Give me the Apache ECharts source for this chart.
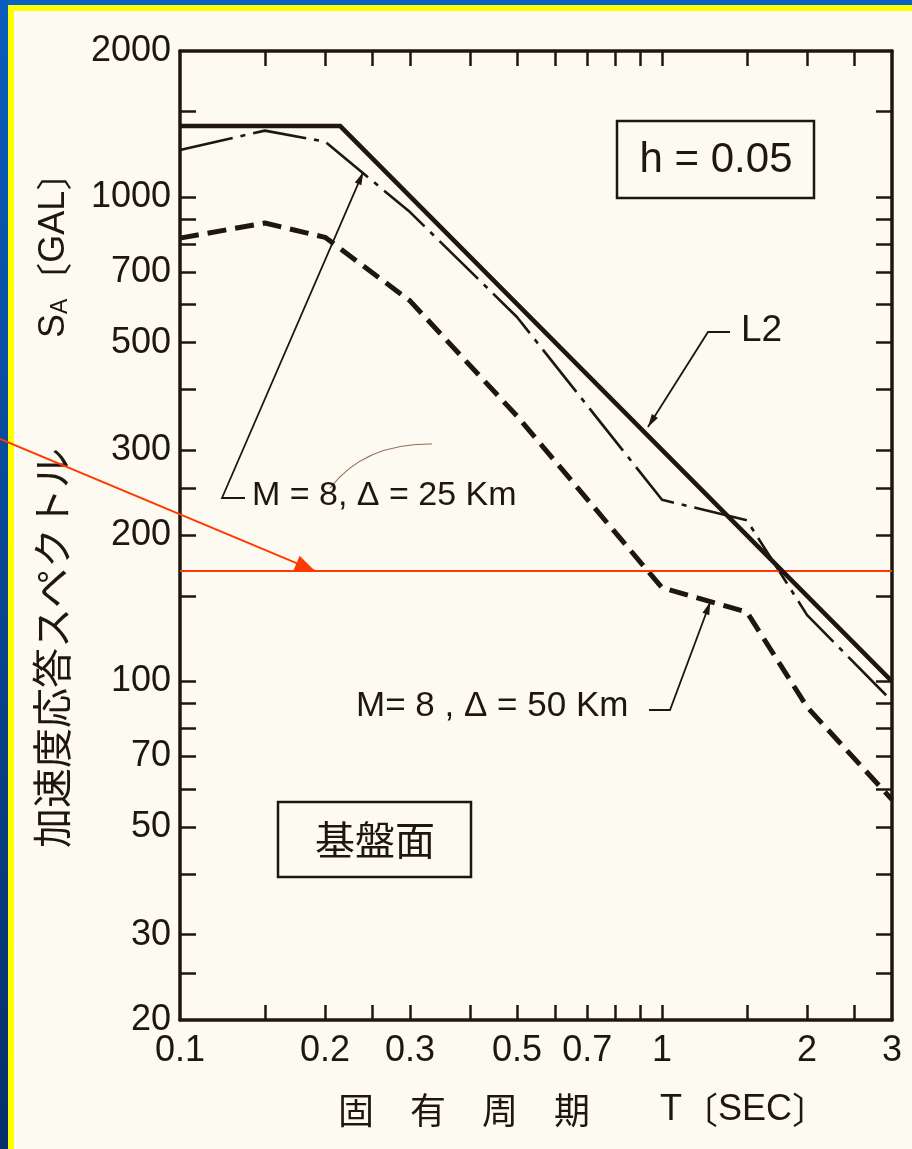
<!DOCTYPE html>
<html>
<head>
<meta charset="utf-8">
<script src="https://cdn.jsdelivr.net/npm/echarts@6/dist/echarts.min.js"></script>
<style>
  html, body { margin: 0; padding: 0; background: #fdfbf1; }
  #chart { width: 912px; height: 1149px; }
</style>
</head>
<body>
<div id="chart"></div>
<script>
// ---- data ----
const periods = [0.1, 0.15, 0.2, 0.3, 0.5, 1.0, 1.5, 2.0, 3.0];          // T [sec]
const saM8D25 = [1250, 1370, 1300, 930, 565, 237, 215, 137, 91];       // M=8, Δ=25 Km (dash-dot)
const saM8D50 = [822, 883, 825, 610, 353, 156, 139, 88.5, 57];         // M=8, Δ=50 Km (dashed)
const l2Periods = [0.1, 0.215, 3.0];                                    // L2 (solid)
const l2Sa = [1400, 1400, 100];
const redLevel = 169;                                                   // red horizontal line
const xLabelValues = [0.1, 0.2, 0.3, 0.5, 0.7, 1, 2, 3];
const xTickValues = [0.15, 0.2, 0.25, 0.3, 0.4, 0.5, 0.6, 0.7, 0.8, 0.9, 1, 1.5, 2, 2.5];
const yLabelValues = [20, 30, 50, 70, 100, 200, 300, 500, 700, 1000, 2000];
const yTickValues = [25, 30, 40, 50, 60, 70, 80, 90, 100, 150, 200, 250, 300, 400, 500, 600, 700, 800, 900, 1000, 1500];
// pointer tips (data coordinates)
const tipL2 = [0.935, 335];
const tipD25 = [0.24, 1126];
const tipD50 = [1.26, 146];

const INK = '#1f1612';
const LATIN = "'Liberation Sans', Arial, sans-serif";
const CJK = "'Noto Sans CJK JP', 'Noto Sans CJK SC', sans-serif";

const zip = (xs, ys) => xs.map((x, i) => [x, ys[i]]);

const chart = echarts.init(document.getElementById('chart'), null, { renderer: 'canvas' });

function xAxisCfg(pos, showLabels) {
  return {
    type: 'log', logBase: 10, min: 0.1, max: 3, position: pos,
    axisLine: { show: true, lineStyle: { color: INK, width: 3.5 } },
    axisTick: { show: true, inside: true, length: 15, customValues: xTickValues, lineStyle: { color: INK, width: 2.5 } },
    axisLabel: {
      show: showLabels, customValues: xLabelValues, margin: 13,
      fontFamily: LATIN, fontSize: 36, color: INK,
      formatter: v => String(v)
    },
    splitLine: { show: false }, minorTick: { show: false }, minorSplitLine: { show: false }
  };
}
function yAxisCfg(pos, showLabels) {
  return {
    type: 'log', logBase: 10, min: 20, max: 2000, position: pos,
    axisLine: { show: true, lineStyle: { color: INK, width: 3.5 } },
    axisTick: { show: true, inside: true, length: 16, customValues: yTickValues, lineStyle: { color: INK, width: 2.5 } },
    axisLabel: {
      show: showLabels, customValues: yLabelValues, margin: 9,
      fontFamily: LATIN, fontSize: 36, color: INK,
      formatter: v => String(v)
    },
    splitLine: { show: false }, minorTick: { show: false }, minorSplitLine: { show: false }
  };
}

chart.setOption({
  backgroundColor: '#fdfbf1',
  animation: false,
  grid: { left: 180, top: 51, right: 20, bottom: 129, containLabel: false },
  xAxis: [xAxisCfg('bottom', true), xAxisCfg('top', false)],
  yAxis: [yAxisCfg('left', true), yAxisCfg('right', false)],
  series: [
    {
      name: 'L2', type: 'line', data: zip(l2Periods, l2Sa), symbol: 'none', z: 5,
      lineStyle: { color: INK, width: 4.5, type: 'solid', cap: 'butt', join: 'miter' },
      markLine: {
        silent: true, symbol: 'none', label: { show: false },
        lineStyle: { color: '#ff3a00', width: 2, type: 'solid' },
        data: [{ yAxis: redLevel }]
      }
    },
    {
      name: 'M=8, Δ=25 Km', type: 'line', data: zip(periods, saM8D25), symbol: 'none', z: 4,
      lineStyle: { color: INK, width: 2.6, type: [54, 8, 5, 8], cap: 'butt' }
    },
    {
      name: 'M=8, Δ=50 Km', type: 'line', data: zip(periods, saM8D50), symbol: 'none', z: 4,
      lineStyle: { color: INK, width: 5, type: [19, 9], cap: 'butt' }
    }
  ]
});

function head(tip, from, len, half, color) {
  const dx = tip[0] - from[0], dy = tip[1] - from[1];
  const d = Math.hypot(dx, dy) || 1;
  const ux = dx / d, uy = dy / d;
  const bx = tip[0] - ux * len, by = tip[1] - uy * len;
  return {
    type: 'polygon', silent: true, z: 20,
    shape: { points: [tip, [bx - uy * half, by + ux * half], [bx + uy * half, by - ux * half]] },
    style: { fill: color }
  };
}
function pointer(points, color, width) {
  const tip = points[points.length - 1];
  const prev = points[points.length - 2];
  return [
    { type: 'polyline', silent: true, z: 20, shape: { points: points }, style: { stroke: color, lineWidth: width, fill: null } },
    head(tip, prev, 13, 3.6, color)
  ];
}

const px = p => chart.convertToPixel({ gridIndex: 0 }, p);
const pL2 = px(tipL2), pD25 = px(tipD25), pD50 = px(tipD50);
const pRed = px([0.1, redLevel]);
const redTip = [315, pRed[1]];

const graphics = [
  // frame
  { type: 'rect', silent: true, z: -5, shape: { x: 0, y: 0, width: 912, height: 5 }, style: { fill: '#0862c4' } },
  { type: 'rect', silent: true, z: -5, shape: { x: 0, y: 0, width: 8, height: 1149 },
    style: { fill: new echarts.graphic.LinearGradient(0, 0, 0, 1, [{ offset: 0, color: '#0a5dbd' }, { offset: 1, color: '#062f6a' }]) } },
  { type: 'rect', silent: true, z: -4, shape: { x: 8, y: 5, width: 904, height: 6 }, style: { fill: '#ffff00' } },
  { type: 'rect', silent: true, z: -4, shape: { x: 8, y: 5, width: 6, height: 1144 }, style: { fill: '#ffff00' } },

  // h = 0.05 box
  { type: 'rect', silent: true, z: 20, shape: { x: 617, y: 121, width: 197, height: 77 }, style: { fill: null, stroke: INK, lineWidth: 2.5 } },
  { type: 'text', silent: true, z: 21, x: 716, y: 160, style: { text: 'h = 0.05', font: '42px ' + LATIN, fill: INK, align: 'center', verticalAlign: 'middle' } },

  // 基盤面 box
  { type: 'rect', silent: true, z: 20, shape: { x: 278, y: 802, width: 193, height: 75 }, style: { fill: null, stroke: INK, lineWidth: 2.5 } },
  { type: 'text', silent: true, z: 21, x: 375, y: 840, style: { text: '基盤面', font: '40px ' + CJK, fill: INK, align: 'center', verticalAlign: 'middle' } },

  // curve labels
  { type: 'text', silent: true, z: 21, x: 741, y: 331, style: { text: 'L2', font: '37px ' + LATIN, fill: INK, align: 'left', verticalAlign: 'middle' } },
  { type: 'text', silent: true, z: 21, x: 252, y: 496, style: { text: 'M = 8, Δ = 25 Km', font: '34px ' + LATIN, fill: INK, align: 'left', verticalAlign: 'middle' } },
  { type: 'text', silent: true, z: 21, x: 356, y: 706, style: { text: 'M= 8 , Δ = 50 Km', font: '35px ' + LATIN, fill: INK, align: 'left', verticalAlign: 'middle' } },

  // stray hand-drawn curve
  { type: 'bezierCurve', silent: true, z: 19, shape: { x1: 330, y1: 488, cpx1: 365, cpy1: 443, x2: 432, y2: 444 }, style: { stroke: '#9a6a52', lineWidth: 1.2, fill: null } },

  // red arrow
  { type: 'line', silent: true, z: 22, shape: { x1: 0, y1: 439, x2: redTip[0], y2: redTip[1] }, style: { stroke: '#ff3a00', lineWidth: 2 } },
  head(redTip, [0, 439], 20, 8, '#ff3a00'),

  // axis titles
  { type: 'text', silent: true, z: 21, x: 338, y: 1110,
    style: {
      text: '{c|固　有　周　期}{g| }{t|T}{b|〔}{t|SEC}{b|〕}', align: 'left', verticalAlign: 'middle',
      rich: {
        c: { font: '36px ' + CJK, fill: INK },
        g: { width: 70, font: '36px ' + LATIN },
        t: { font: '36px ' + LATIN, fill: INK },
        b: { font: '36px ' + CJK, fill: INK }
      }
    }
  },
  { type: 'text', silent: true, z: 21, x: 52, y: 848, rotation: Math.PI / 2,
    style: {
      text: '{c|加速度応答スペクトル}{g| }{s|S}{a|A}{b|〔}{s|GAL}{b|〕}', align: 'left', verticalAlign: 'middle',
      rich: {
        c: { font: '40px ' + CJK, fill: INK, verticalAlign: 'bottom' },
        g: { width: 110, font: '36px ' + LATIN, verticalAlign: 'bottom' },
        s: { font: '36px ' + LATIN, fill: INK, verticalAlign: 'bottom' },
        a: { font: '23px ' + LATIN, fill: INK, verticalAlign: 'bottom' },
        b: { font: '36px ' + CJK, fill: INK, verticalAlign: 'bottom' }
      }
    }
  }
];

graphics.push(...pointer([[730, 332], [708, 332], pL2], INK, 1.8));
graphics.push(...pointer([[245, 498], [222, 498], pD25], INK, 1.8));
graphics.push(...pointer([[649, 710], [670, 710], pD50], INK, 1.8));

chart.setOption({ graphic: graphics });
</script>
</body>
</html>
